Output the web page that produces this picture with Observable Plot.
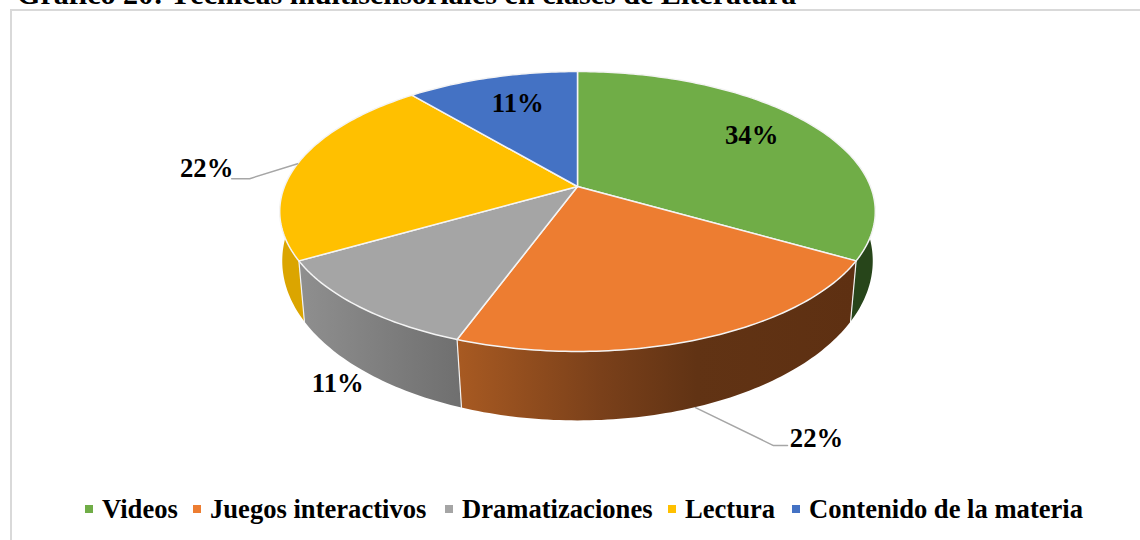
<!DOCTYPE html>
<html lang="es">
<head>
<meta charset="utf-8">
<script src="https://cdn.jsdelivr.net/npm/d3@7"></script>
<script src="https://cdn.jsdelivr.net/npm/@observablehq/plot@0.6"></script>
<style>
  html, body { margin: 0; padding: 0; background: #fff; }
  body { position: relative; width: 1140px; height: 540px; overflow: hidden; font-family: "Liberation Serif", serif; color: #000; }
  #title { position: absolute; left: 17px; top: -20.5px; font-size: 30.1px; font-weight: bold; white-space: nowrap; line-height: 28px; }
  #frame { position: absolute; left: 10px; top: 9px; width: 1140px; height: 540px; border: 2px solid #d9d9d9; box-sizing: border-box; }
  #chart { position: absolute; left: 0; top: 0; }
  #legend { position: absolute; left: 0; top: 488px; width: 1140px; font-size: 26.6px; font-weight: bold; white-space: nowrap; height: 42px; }
  #legend .item { position: absolute; top: 0; height: 42px; display: flex; align-items: center; }
  #legend .sw { width: 8px; height: 8px; margin-right: 9px; display: inline-block; }
</style>
</head>
<body>
<div id="title">Gráfico 20: Técnicas multisensoriales en clases de Literatura</div>
<div id="frame"></div>
<div id="chart"></div>
<div id="legend"></div>
<script>
// --- data ---
const categories = ["Videos", "Juegos interactivos", "Dramatizaciones", "Lectura", "Contenido de la materia"];
const sliceShares = [33.3, 22.2, 11.1, 22.2, 11.1];
const printedLabels = ["34%", "22%", "11%", "22%", "11%"];
const sliceColors = ["#70AD47", "#ED7D31", "#A5A5A5", "#FFC000", "#4472C4"];
const legendLefts = [85, 193, 445, 668, 792];

// --- look of the tilted pie ---
const tilt = 0.1786, baseTilt = 0.148;   // perspective of top and bottom discs
const pxX = 293, pxY = 135.5;            // pixels per scale unit
const baseScaleX = 292 / pxX, baseScaleY = 156 / pxY, baseDrop = 50.8 / pxY;

const project = (deg, r = 1, c = tilt) => {
  const a = deg * Math.PI / 180, u = r * Math.sin(a), v = r * Math.cos(a), w = 1 + c * v;
  return [u / w, v / w];
};
const top3d = (deg, r = 1) => project(deg, r);
const base3d = (deg) => { const [x, y] = project(deg, 1, baseTilt); return [x * baseScaleX, y * baseScaleY - baseDrop]; };
const shift = ([x, y], [ox, oy]) => [x + ox / pxX, y - oy / pxY];

const total = d3.sum(sliceShares);
const cum = d3.cumsum(sliceShares);
const startDeg = i => i === 0 ? 0 : cum[i - 1] / total * 360;
const endDeg = i => cum[i] / total * 360;
const midDeg = i => (startDeg(i) + endDeg(i)) / 2;
const arc = (a, b) => { const n = Math.max(2, Math.ceil(Math.abs(b - a))); return d3.range(n + 1).map(k => a + (b - a) * k / n); };

const faces = categories.flatMap((category, i) => {
  const pts = [[0, 0], ...arc(startDeg(i), endDeg(i)).map(d => top3d(d)), [0, 0]];
  return pts.map(([x, y]) => ({category, x, y}));
});

// visible side walls: clipped to the front half of the disc
const wallSpec = [
  {from: () => startDeg(3), to: () => 280, fill: "#DBA500"},
  {from: () => 80, to: () => endDeg(0), fill: "#27451A"},
  {from: () => startDeg(2), to: () => endDeg(2), fill: "url(#wallGray)"},
  {from: () => startDeg(1), to: () => endDeg(1), fill: "url(#wallOrange)"}
];
const wallMarks = wallSpec.map(w => {
  const a = arc(w.from(), w.to());
  const pts = [...a.map(d => top3d(d)), ...a.slice().reverse().map(d => base3d(d))];
  return Plot.line(pts, {x: d => d[0], y: d => d[1], fill: w.fill, stroke: "none"});
});
const wallEdges = [1, 2, 3].map(i => {
  const d = startDeg(i);
  return Plot.line([top3d(d), base3d(d)], {x: d => d[0], y: d => d[1], stroke: "#f2f2f2", strokeWidth: 1.2});
});

// labels: anchored on the slice's mid angle, with a pixel offset
const labelAnchors = [
  top3d(midDeg(0), 0.7), base3d(midDeg(1)), base3d(midDeg(2)), top3d(midDeg(3)), top3d(midDeg(4), 0.7)
];
const labelOffsets = [[7, -6], [123, 31], [-28, 11], [-91, 5], [3, -3]];
const labelRows = printedLabels.map((text, i) => {
  const [x, y] = shift(labelAnchors[i], labelOffsets[i]);
  return {text, x, y};
});
const leaderRows = [
  [shift(labelAnchors[1], [2, 0]), [78, 38], [92, 38]],
  [labelAnchors[3], [-48, 15], [-66, 15]]
].map(([a, p, q]) => [a, shift(a, p), shift(a, q)]);

const gradients = () => {
  const ns = "http://www.w3.org/2000/svg";
  const defs = document.createElementNS(ns, "defs");
  const add = (id, stops) => {
    const g = document.createElementNS(ns, "linearGradient");
    g.setAttribute("id", id);
    stops.forEach(([o, c]) => {
      const s = document.createElementNS(ns, "stop");
      s.setAttribute("offset", o);
      s.setAttribute("stop-color", c);
      g.appendChild(s);
    });
    defs.appendChild(g);
  };
  add("wallOrange", [[0, "#A85A22"], [0.36, "#7A401A"], [0.6, "#613314"], [1, "#5E3012"]]);
  add("wallGray", [[0, "#8F8F8F"], [1, "#6F6F6F"]]);
  return defs;
};

const chart = Plot.plot({
  width: 1140,
  height: 480,
  margin: 0,
  style: {background: "transparent"},
  x: {domain: [-1, 1], range: [577 - pxX, 577 + pxX], axis: null},
  y: {domain: [-1, 1], range: [186 + pxY, 186 - pxY], axis: null},
  color: {domain: categories, range: sliceColors},
  marks: [
    gradients,
    ...wallMarks,
    ...wallEdges,
    Plot.line(faces, {x: "x", y: "y", z: "category", fill: "category", stroke: "#f4f4f4", strokeWidth: 1.5}),
    ...leaderRows.map(r => Plot.line(r, {x: d => d[0], y: d => d[1], stroke: "#A6A6A6", strokeWidth: 1.5})),
    Plot.text(labelRows, {x: "x", y: "y", text: "text", fontFamily: "Liberation Serif", fontWeight: "bold", fontSize: 26.7, fill: "#000"})
  ]
});
document.getElementById("chart").appendChild(chart);

const legend = document.getElementById("legend");
categories.forEach((c, i) => {
  const item = document.createElement("span");
  item.className = "item";
  item.style.left = legendLefts[i] + "px";
  const sw = document.createElement("span");
  sw.className = "sw";
  sw.style.background = sliceColors[i];
  item.appendChild(sw);
  item.appendChild(document.createTextNode(c));
  legend.appendChild(item);
});
</script>
</body>
</html>
